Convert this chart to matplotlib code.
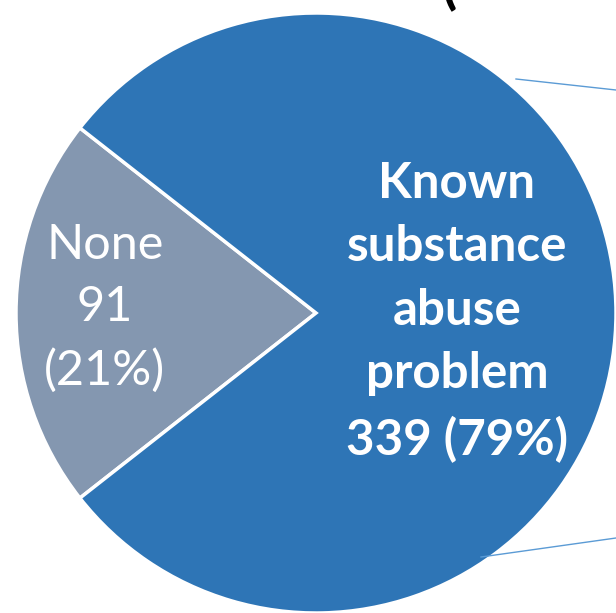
import matplotlib
matplotlib.use("Agg")
import matplotlib.pyplot as plt

categories = ["None", "Known\nsubstance\nabuse\nproblem"]
counts = [91, 339]
colors = ["#8497B0", "#2E75B6"]

total = sum(counts)
pcts = [round(c / total * 100) for c in counts]

fig = plt.figure(figsize=(6.16, 6.13), dpi=100)
ax = fig.add_axes([0, 0, 1, 1])

# "None" slice centred on the left side
start = 180 - counts[0] / total * 180
wedges, _ = ax.pie(counts, colors=colors, startangle=start, center=(316, 300),
                   radius=300, wedgeprops=dict(edgecolor="white", linewidth=2.5),
                   frame=True)
ax.set_xlim(0, 616)
ax.set_ylim(0, 613)
ax.axis("off")

ax.text(105, 305, f"{categories[0]}\n{counts[0]}\n({pcts[0]}%)", ha="center", va="center",
        color="white", fontsize=35, family="Lato", linespacing=1.52)
ax.text(457, 301, f"{categories[1]}\n{counts[1]} ({pcts[1]}%)", ha="center", va="center",
        color="white", fontsize=35.5, family="Lato", fontweight="bold", linespacing=1.5)

# leader lines going off to the right
ax.plot([516, 616], [613 - 79, 613 - 90], color="#5B9BD5", lw=1)
ax.plot([481, 616], [613 - 557, 613 - 538], color="#5B9BD5", lw=1)

# bottom of a title cut off above
ax.text(450, 613 - 12, "(", ha="center", va="bottom", fontsize=40, family="Lato",
        fontweight="bold")

fig.savefig("out.png", dpi=100)
